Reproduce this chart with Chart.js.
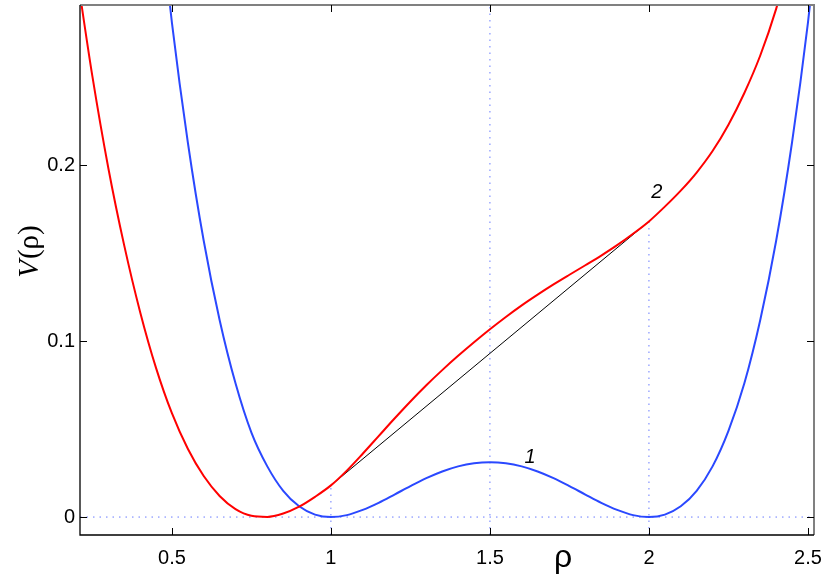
<!DOCTYPE html>
<html>
<head>
<meta charset="utf-8">
<script src="https://cdn.jsdelivr.net/npm/chart.js@4/dist/chart.umd.min.js"></script>
<style>
  html, body { margin: 0; padding: 0; background: #ffffff; }
  #wrap { width: 830px; height: 583px; position: relative; }
</style>
</head>
<body>
<div id="wrap"><canvas id="c" width="830" height="583"></canvas></div>
<script>
// ---- data ----
const rhoRed = [0.20,0.25,0.30,0.35,0.40,0.45,0.50,0.55,0.60,0.65,0.70,0.75,0.80,0.85,0.90,0.95,1.00,1.05,1.10,1.15,1.20,1.25,1.30,1.35,1.40,1.45,1.50,1.55,1.60,1.65,1.70,1.75,1.80,1.85,1.90,1.95,2.00,2.05,2.10,2.15,2.20,2.25,2.30,2.35,2.40,2.45];
const vRed   = [0.3104,0.2504,0.1984,0.1544,0.1166,0.0848,0.059,0.0388,0.0233,0.012,0.0045,0.0007,0.0001,0.002,0.0059,0.0115,0.018,0.0264,0.036,0.046,0.056,0.0657,0.0749,0.0835,0.0916,0.0993,0.1067,0.1137,0.1203,0.1264,0.1322,0.1377,0.1431,0.1486,0.1545,0.1610,0.168,0.1764,0.1855,0.1958,0.208,0.223,0.241,0.2623,0.2888,0.3218];

const rhoBlue = [0.45,0.50,0.55,0.60,0.65,0.70,0.75,0.80,0.85,0.90,0.95,1.00,1.05,1.10,1.15,1.20,1.25,1.30,1.35,1.40,1.45,1.50,1.55,1.60,1.65,1.70,1.75,1.80,1.85,1.90,1.95,2.00,2.05,2.10,2.15,2.20,2.25,2.30,2.35,2.40,2.45,2.50,2.55];
const vBlue   = [0.363,0.281,0.213,0.157,0.112,0.076,0.048,0.0288,0.0149,0.0061,0.0014,0,0.0011,0.0041,0.0081,0.0128,0.0176,0.0221,0.0259,0.0288,0.0306,0.0312,0.0306,0.0288,0.0259,0.0221,0.0176,0.0128,0.0081,0.0041,0.0011,0,0.0014,0.0061,0.0149,0.0288,0.049,0.076,0.112,0.157,0.213,0.281,0.363];

const tangentRho = [1, 2];
const tangentV   = [0.018, 0.168];

const guideRho = [1, 1.5, 2];
const guideTop = [0.018, 0.291, 0.168];

const xTicks = [0.5, 1, 1.5, 2, 2.5];
const yTicks = [0, 0.1, 0.2];
const xRange = [0.211, 2.519];
const yRange = [-0.0102, 0.291];

const curveLabels = [
  { text: '1', rho: 1.626, v: 0.034 },
  { text: '2', rho: 2.025, v: 0.1847 }
];

// ---- build datasets ----
const pts = (xs, ys) => xs.map((x, i) => ({ x: x, y: ys[i] }));
const guideColor = 'rgba(90,110,255,0.9)';
const datasets = [
  { data: pts(rhoRed, vRed), borderColor: '#ff0000', borderWidth: 2, cubicInterpolationMode: 'monotone' },
  { data: pts(rhoBlue, vBlue), borderColor: '#2a48ff', borderWidth: 2, cubicInterpolationMode: 'monotone' },
  { data: pts(tangentRho, tangentV), borderColor: '#000000', borderWidth: 1 },
  { data: [{ x: xRange[0], y: 0 }, { x: xRange[1], y: 0 }], borderColor: guideColor, borderWidth: 1, borderDash: [1.5, 5] }
];
guideRho.forEach((r, i) => {
  datasets.push({ data: [{ x: r, y: yRange[0] }, { x: r, y: guideTop[i] }], borderColor: guideColor, borderWidth: 1, borderDash: [1.5, 5] });
});
datasets.forEach(d => { d.showLine = true; d.pointRadius = 0; d.pointHoverRadius = 0; d.fill = false; });

const framePlugin = {
  id: 'frame',
  afterDraw(chart) {
    const ctx = chart.ctx, a = chart.chartArea;
    const xs = chart.scales.x, ys = chart.scales.y;
    ctx.save();
    // frame
    ctx.lineWidth = 2; ctx.strokeStyle = '#808080';
    ctx.beginPath();
    ctx.moveTo(a.left, a.top); ctx.lineTo(a.right, a.top); ctx.lineTo(a.right, a.bottom);
    ctx.stroke();
    ctx.lineWidth = 1.3; ctx.strokeStyle = '#000000';
    ctx.beginPath();
    ctx.moveTo(a.left, a.top); ctx.lineTo(a.left, a.bottom); ctx.lineTo(a.right, a.bottom);
    ctx.stroke();
    // inward ticks
    ctx.lineWidth = 1; ctx.strokeStyle = '#000000';
    ctx.beginPath();
    xTicks.forEach(v => {
      const px = Math.round(xs.getPixelForValue(v)) + 0.5;
      ctx.moveTo(px, a.bottom); ctx.lineTo(px, a.bottom - 7);
      ctx.moveTo(px, a.top); ctx.lineTo(px, a.top + 7);
    });
    yTicks.forEach(v => {
      const py = Math.round(ys.getPixelForValue(v)) + 0.5;
      ctx.moveTo(a.left, py); ctx.lineTo(a.left + 7, py);
      ctx.moveTo(a.right, py); ctx.lineTo(a.right - 7, py);
    });
    ctx.stroke();
    // curve labels
    ctx.fillStyle = '#000000';
    ctx.font = 'italic 20px "Liberation Sans", Arial, sans-serif';
    ctx.textAlign = 'center'; ctx.textBaseline = 'middle';
    curveLabels.forEach(l => {
      ctx.fillText(l.text, xs.getPixelForValue(l.rho), ys.getPixelForValue(l.v));
    });
    // x title
    ctx.font = '32px "Liberation Sans", Arial, sans-serif';
    ctx.textAlign = 'center'; ctx.textBaseline = 'alphabetic';
    ctx.fillText('ρ', 563, 567);
    // y title: italic V + (ρ)
    ctx.translate(38, 252);
    ctx.rotate(-Math.PI / 2);
    const fItal = 'italic 29px "Liberation Serif", "Times New Roman", serif';
    const fReg = '29px "Liberation Serif", "Times New Roman", serif';
    ctx.font = fItal; const wV = ctx.measureText('V').width;
    ctx.font = fReg; const wR = ctx.measureText('(ρ)').width;
    const start = -(wV + wR) / 2;
    ctx.textAlign = 'left';
    ctx.font = fItal; ctx.fillText('V', start, 0);
    ctx.font = fReg; ctx.fillText('(ρ)', start + wV + 1, 0);
    ctx.restore();
  }
};

new Chart(document.getElementById('c'), {
  type: 'scatter',
  data: { datasets: datasets },
  options: {
    responsive: false,
    animation: false,
    events: [],
    layout: { padding: { top: 5, right: 16, left: 0, bottom: 0 } },
    plugins: { legend: { display: false }, tooltip: { enabled: false } },
    scales: {
      x: {
        type: 'linear', min: xRange[0], max: xRange[1],
        afterBuildTicks: s => { s.ticks = xTicks.map(v => ({ value: v })); },
        afterFit: s => { s.height = 48; s.paddingLeft = 0; s.paddingRight = 0; },
        grid: { display: false, drawTicks: false },
        border: { display: false },
        ticks: { color: '#000', padding: 11, maxRotation: 0, autoSkip: false,
                 font: { family: '"Liberation Sans", Arial, sans-serif', size: 20 },
                 callback: v => String(v) }
      },
      y: {
        type: 'linear', min: yRange[0], max: yRange[1],
        afterBuildTicks: s => { s.ticks = yTicks.map(v => ({ value: v })); },
        afterFit: s => { s.width = 80; s.paddingTop = 0; s.paddingBottom = 0; },
        grid: { display: false, drawTicks: false },
        border: { display: false },
        ticks: { color: '#000', padding: 5, autoSkip: false,
                 font: { family: '"Liberation Sans", Arial, sans-serif', size: 20 },
                 callback: v => String(v) }
      }
    }
  },
  plugins: [framePlugin]
});
</script>
</body>
</html>
